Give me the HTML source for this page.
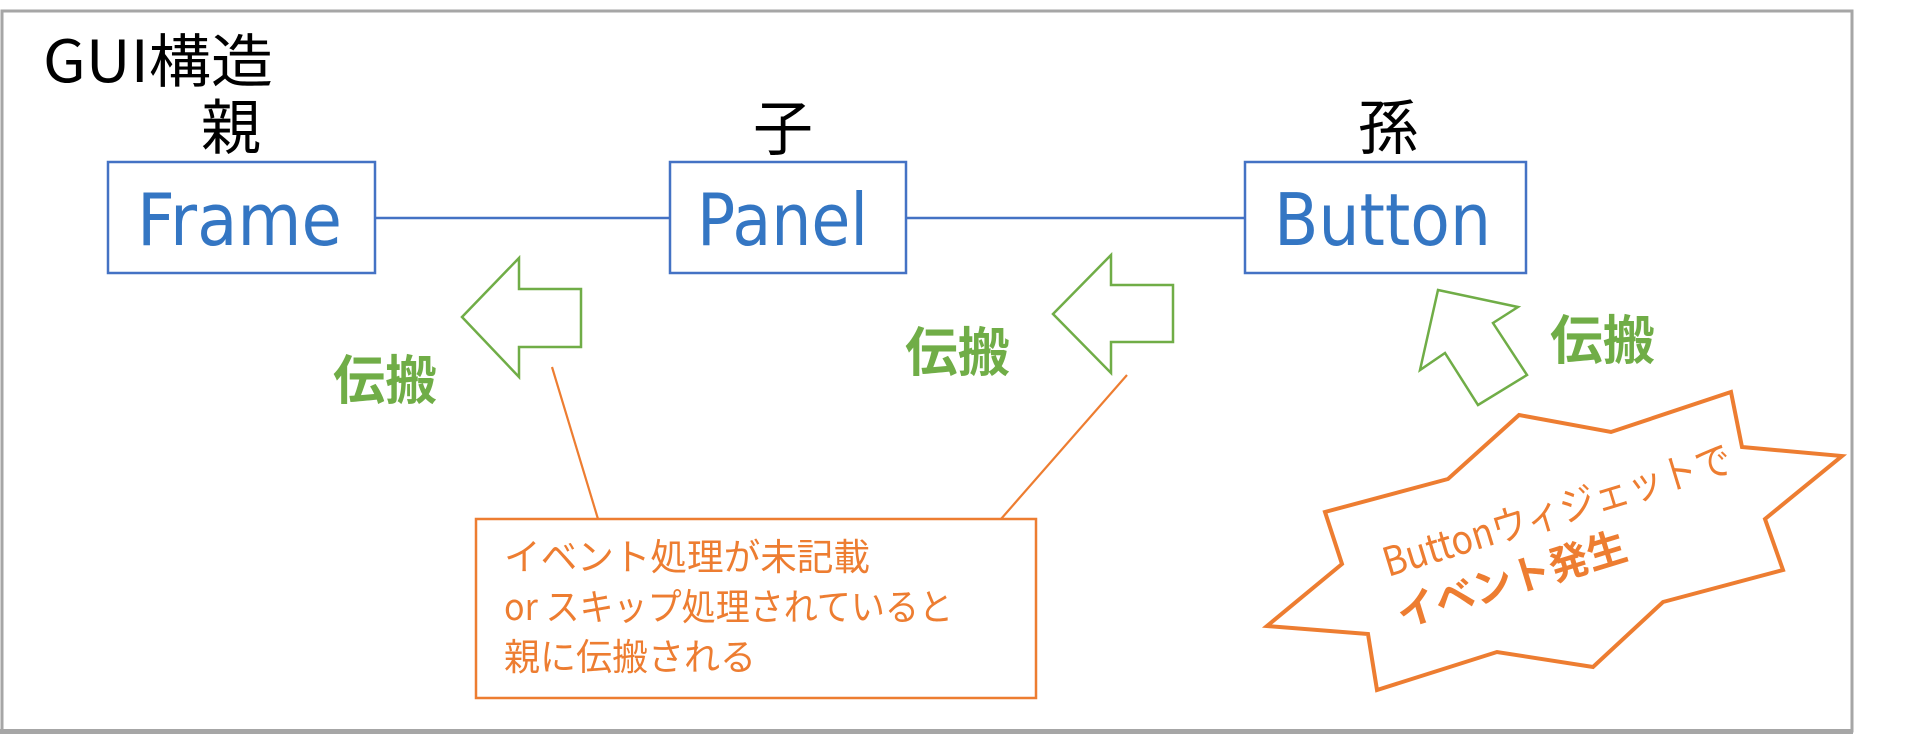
<!DOCTYPE html>
<html><head><meta charset="utf-8"><style>
html,body{margin:0;padding:0;background:#fff;width:1930px;height:734px;overflow:hidden}
svg{display:block}
text{font-family:"Liberation Sans","Noto Sans CJK JP",sans-serif}
.j{font-family:"Noto Sans CJK JP",sans-serif}
.v{font-family:"DejaVu Sans","Noto Sans CJK JP",sans-serif}
</style></head><body>
<svg width="1930" height="734" viewBox="0 0 1930 734" xmlns="http://www.w3.org/2000/svg">
<rect x="0" y="0" width="1930" height="734" fill="#fff"/>
<!-- outer frame -->
<rect x="2" y="11" width="1850" height="720" fill="none" stroke="#A6A6A6" stroke-width="3"/>
<rect x="0" y="729" width="1853" height="5" fill="#A6A6A6"/>

<!-- title -->
<text class="j" x="43" y="82" font-size="58" fill="#000" textLength="230" lengthAdjust="spacingAndGlyphs">GUI構造</text>
<text class="j" x="231" y="149" font-size="60" fill="#000" text-anchor="middle">親</text>
<text class="j" x="783" y="150" font-size="60" fill="#000" text-anchor="middle">子</text>
<text class="j" x="1388" y="149" font-size="60" fill="#000" text-anchor="middle">孫</text>

<!-- connectors -->
<line x1="375" y1="218" x2="670" y2="218" stroke="#4472C4" stroke-width="2.5"/>
<line x1="906" y1="218" x2="1244" y2="218" stroke="#4472C4" stroke-width="2.5"/>

<!-- boxes -->
<rect x="108" y="162" width="267" height="111" fill="#fff" stroke="#4472C4" stroke-width="2.5"/>
<rect x="670" y="162" width="236" height="111" fill="#fff" stroke="#4472C4" stroke-width="2.5"/>
<rect x="1245" y="162" width="281" height="111" fill="#fff" stroke="#4472C4" stroke-width="2.5"/>
<text class="v" x="137" y="245" font-size="72" fill="#3476C3" textLength="205" lengthAdjust="spacingAndGlyphs">Frame</text>
<text class="v" x="697" y="245" font-size="72" fill="#3476C3" textLength="171" lengthAdjust="spacingAndGlyphs">Panel</text>
<text class="v" x="1274" y="245" font-size="72" fill="#3476C3" textLength="217" lengthAdjust="spacingAndGlyphs">Button</text>

<!-- green arrows -->
<polygon points="462,317 519,258 519,289 581,289 581,347 519,347 519,377" fill="#fff" stroke="#70AD47" stroke-width="2.5" stroke-linejoin="miter"/>
<polygon points="1053,314 1111,255 1111,285 1173,285 1173,342 1111,342 1111,373" fill="#fff" stroke="#70AD47" stroke-width="2.5"/>
<polygon points="1438,290 1518,307 1493,323 1527,375 1478,405 1445,353 1420,370" fill="#fff" stroke="#70AD47" stroke-width="2.5"/>

<text class="j" x="333" y="399" font-size="53" font-weight="bold" fill="#70AD47" textLength="104" lengthAdjust="spacingAndGlyphs">伝搬</text>
<text class="j" x="905" y="371" font-size="53" font-weight="bold" fill="#70AD47" textLength="105" lengthAdjust="spacingAndGlyphs">伝搬</text>
<text class="j" x="1550" y="359" font-size="53" font-weight="bold" fill="#70AD47" textLength="105" lengthAdjust="spacingAndGlyphs">伝搬</text>

<!-- orange callout -->
<line x1="552" y1="367" x2="598" y2="519" stroke="#ED7D31" stroke-width="2.2"/>
<line x1="1127" y1="375" x2="1001" y2="519" stroke="#ED7D31" stroke-width="2.2"/>
<rect x="476" y="519" width="560" height="179" fill="#fff" stroke="#ED7D31" stroke-width="2.5"/>
<text class="j" x="504" y="570" font-size="37" fill="#ED7D31" textLength="366" lengthAdjust="spacingAndGlyphs">イベント処理が未記載</text>
<text class="j" x="504" y="620" font-size="37" fill="#ED7D31" textLength="449" lengthAdjust="spacingAndGlyphs">or スキップ処理されていると</text>
<text class="j" x="504" y="670" font-size="37" fill="#ED7D31" textLength="252" lengthAdjust="spacingAndGlyphs">親に伝搬される</text>

<!-- explosion -->
<polygon points="1519,415 1611,432 1731,392 1742,447 1842,456 1765,519 1783,570 1663,602 1593,667 1497,652 1377,690 1368,634 1267,626 1342,564 1325,512 1448,479" fill="#fff" stroke="#ED7D31" stroke-width="4" stroke-linejoin="miter"/>
<text class="j" transform="translate(1388,577) rotate(-17)" x="0" y="0" font-size="40" fill="#ED7D31" textLength="362" lengthAdjust="spacingAndGlyphs">Buttonウィジェットで</text>
<text class="j" transform="translate(1402,628) rotate(-17)" x="0" y="0" font-size="40" font-weight="bold" fill="#ED7D31" textLength="238" lengthAdjust="spacingAndGlyphs">イベント発生</text>
</svg>
</body></html>
